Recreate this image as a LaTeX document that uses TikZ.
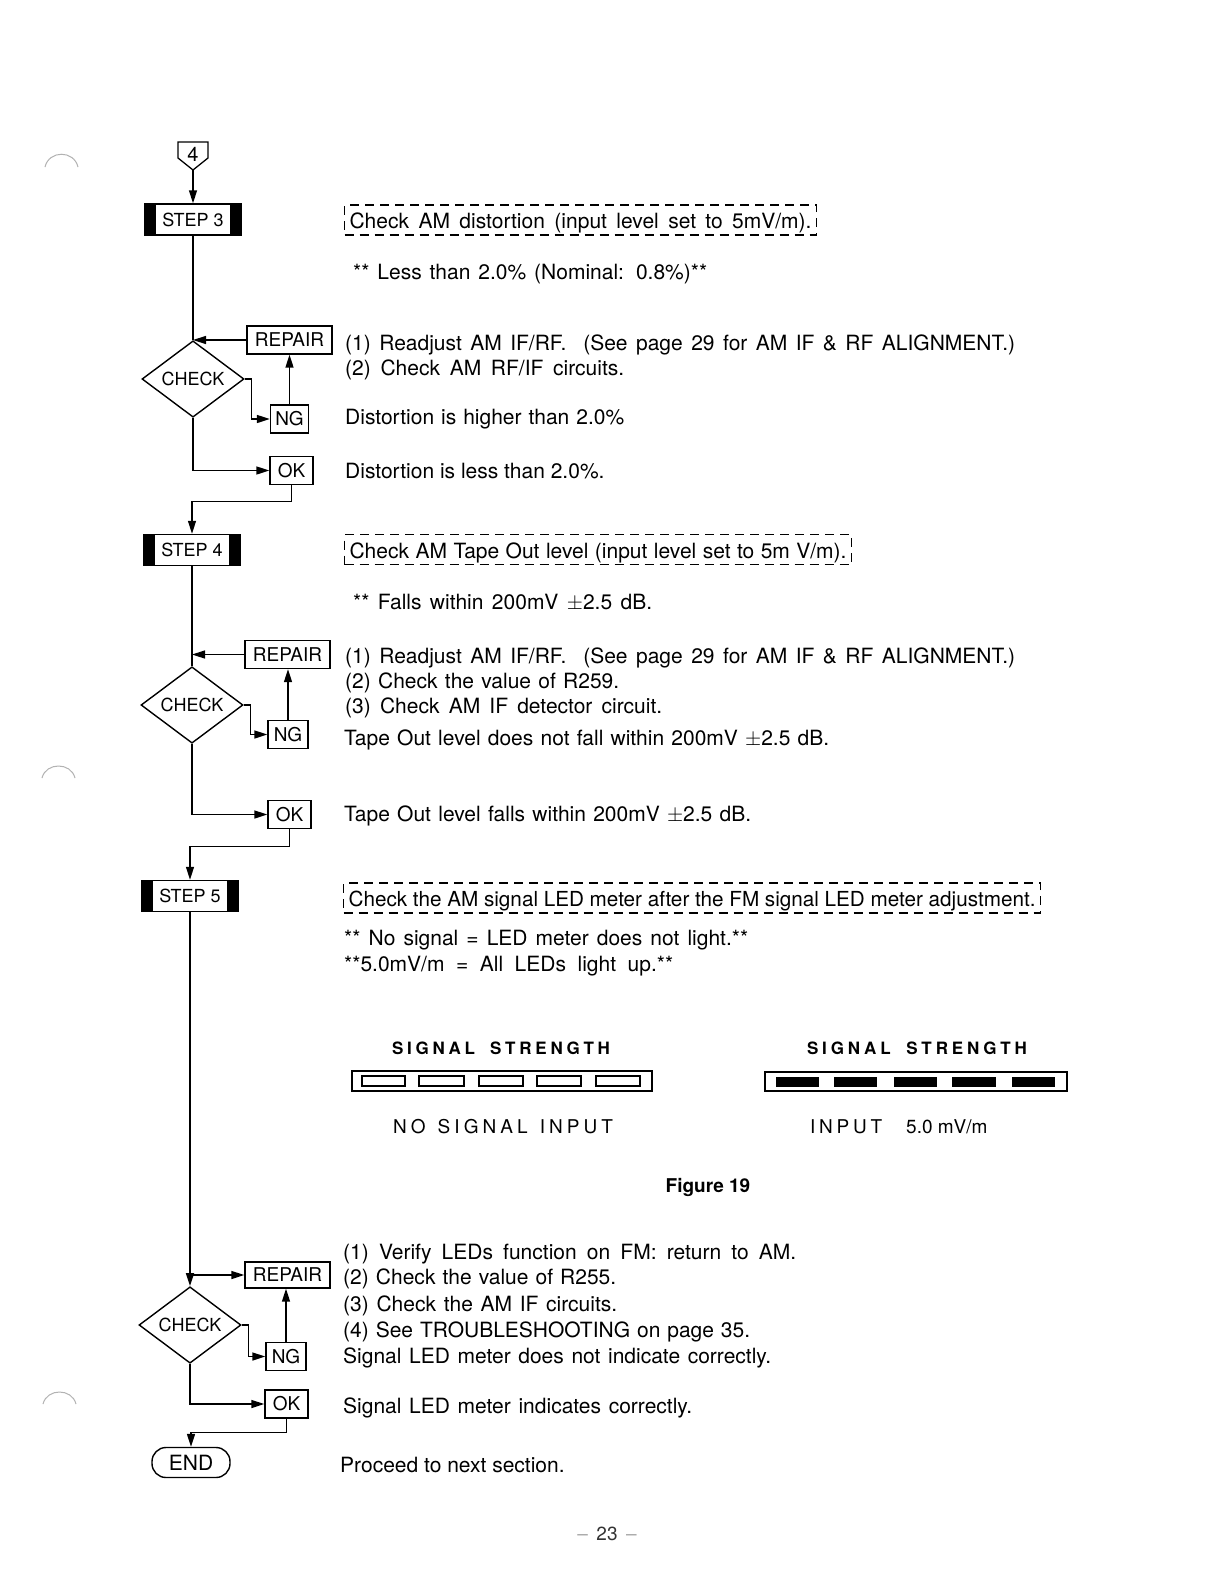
\documentclass[tikz,border=0pt]{standalone}
\usepackage{fontspec}
\setmainfont{TeX Gyre Heros}
\usetikzlibrary{shapes.geometric,arrows.meta}
\newcommand\fs[1]{\fontsize{#1}{#1}\selectfont}
\newcommand\spreadbox[2]{\makebox[#1][s]{#2}}
\begin{document}
\begin{tikzpicture}[x=1pt,y=-1pt,
  ln/.style={line width=1.5pt},
  arr/.style={line width=1.5pt,-{Triangle[length=13pt,width=8pt]}},
  stepbox/.style={draw,line width=1.5pt,minimum width=96pt,minimum height=31pt,inner sep=0pt,font=\fs{18},
    path picture={\fill (path picture bounding box.north west) rectangle ([xshift=11pt]path picture bounding box.south west);
                  \fill (path picture bounding box.north east) rectangle ([xshift=-11pt]path picture bounding box.south east);}},
  lbl/.style={draw,line width=1.4pt,inner sep=0pt,minimum height=28pt,font=\fs{19}},
  chk/.style={diamond,draw,line width=1.4pt,inner sep=0pt,minimum width=102pt,minimum height=58pt,font=\fs{18}},
  txt/.style={anchor=base west,inner sep=0pt,font=\fs{21}},
  dbox/.style={draw,dash pattern=on 9pt off 6pt,line width=1.1pt,anchor=west,inner xsep=5pt,inner ysep=2pt,
    minimum height=30pt,text height=19pt,text depth=2pt,font=\fs{21}},
  sp/.style={inner sep=0pt,font=\fs{17}\bfseries},
  bar/.style={draw,line width=1.3pt},
  seg/.style={draw,line width=1.1pt},
  segf/.style={fill=black},
  scan/.style={gray!60,line width=1pt}
]
\useasboundingbox[fill=white] (0,0) rectangle (1225,1584);

% scan marks at left edge
\draw[scan] (45,167) .. controls (49,150) and (74,150) .. (78,167);
\draw[scan] (42,778) .. controls (46,762) and (71,762) .. (75,778);
\draw[scan] (43,1404) .. controls (47,1388) and (72,1388) .. (76,1404);

% ---------- marker 4 ----------
\draw[line width=1.3pt] (178,142) -- (208,142) -- (208,158) -- (193,170) -- (178,158) -- cycle;
\node[inner sep=0pt,font=\fs{20}] (m4) at (193,154) {4};
\coordinate (m4tip) at (193,170);

% ---------- STEP 3 ----------
\node[stepbox] (s3) at (193,219.5) {STEP 3};
\draw[arr] (m4tip) -- (s3.north);
\node[lbl,minimum width=85pt] (r3) at (289.5,340) {REPAIR};
\node[chk] (c3) at (193,379) {CHECK};
\node[lbl,minimum width=38pt] (ng3) at (289.5,419) {NG};
\node[lbl,minimum width=43pt] (ok3) at (291.5,470.5) {OK};
\draw[ln] (s3.south) -- (c3.north);
\draw[arr] (r3.west) -- (r3.west -| c3.north);
\draw[arr] (c3.east) -- ++(7,0) |- (ng3.west);
\draw[arr] (ng3.north) -- (r3.south);
\draw[arr] (c3.south) |- (ok3.west);

\node[dbox] (d3) at (344,220) {\spreadbox{462pt}{Check AM distortion (input level set to 5mV/m).}};
\node[txt] (t31) at (353,279.5) {\spreadbox{354pt}{** Less than 2.0\% (Nominal: 0.8\%)**}};
\node[txt] (t32) at (345,350.5) {\spreadbox{670pt}{(1) Readjust AM IF/RF.\ \ (See page 29 for AM IF \& RF ALIGNMENT.)}};
\node[txt] (t33) at (345,375.5) {\spreadbox{279pt}{(2) Check AM RF/IF circuits.}};
\node[txt] (t34) at (345,424.5) {\spreadbox{279pt}{Distortion is higher than 2.0\%}};
\node[txt] (t35) at (345,478.5) {Distortion is less than 2.0\%.};

% ---------- STEP 4 ----------
\node[stepbox] (s4) at (192,550) {STEP 4};
\draw[arr] (ok3.south) -- ++(0,16.5) -| (s4.north);
\node[lbl,minimum width=85pt] (r4) at (287.5,654.5) {REPAIR};
\node[chk] (c4) at (192,705) {CHECK};
\node[lbl,minimum width=40pt] (ng4) at (288,734.5) {NG};
\node[lbl,minimum width=43pt] (ok4) at (289.5,814.5) {OK};
\draw[ln] (s4.south) -- (c4.north);
\draw[arr] (r4.west) -- (r4.west -| c4.north);
\draw[arr] (c4.east) -- ++(7,0) |- (ng4.west);
\draw[arr] (ng4.north) -- (ng4.north |- r4.south);
\draw[arr] (c4.south) |- (ok4.west);

\node[dbox] (d4) at (344,549.5) {\spreadbox{497pt}{Check AM Tape Out level (input level set to 5m V/m).}};
\node[txt] (t41) at (353,609.5) {\spreadbox{299pt}{** Falls within 200mV $\pm$2.5 dB.}};
\node[txt] (t42) at (345,663.5) {\spreadbox{670pt}{(1) Readjust AM IF/RF.\ \ (See page 29 for AM IF \& RF ALIGNMENT.)}};
\node[txt] (t43) at (345,688.5) {\spreadbox{274pt}{(2) Check the value of R259.}};
\node[txt] (t44) at (345,713.5) {\spreadbox{317pt}{(3) Check AM IF detector circuit.}};
\node[txt] (t45) at (344,745.5) {\spreadbox{485pt}{Tape Out level does not fall within 200mV $\pm$2.5 dB.}};
\node[txt] (t46) at (344,821.5) {\spreadbox{407pt}{Tape Out level falls within 200mV $\pm$2.5 dB.}};

% ---------- STEP 5 ----------
\node[stepbox] (s5) at (190,896) {STEP 5};
\draw[arr] (ok4.south) -- ++(0,17.5) -| (s5.north);
\node[lbl,minimum width=85pt,minimum height=26pt] (r5) at (287.5,1275) {REPAIR};
\node[chk] (c5) at (190,1325) {CHECK};
\node[lbl,minimum width=40pt] (ng5) at (286,1356.5) {NG};
\node[lbl,minimum width=43pt] (ok5) at (286.5,1404) {OK};
\coordinate (j5) at (190,1275);
\draw[arr] (s5.south) -- (c5.north);
\draw[arr] (j5) -- (r5.west);
\draw[arr] (c5.east) -- ++(7,0) |- (ng5.west);
\draw[arr] (ng5.north) -- (ng5.north |- r5.south);
\draw[arr] (c5.south) |- (ok5.west);
\node[draw,line width=1.4pt,rounded corners=14pt,minimum width=78pt,minimum height=30pt,inner sep=0pt,font=\fs{21}] (endn) at (191,1462.5) {END};
\draw[arr] (ok5.south) -- ++(0,14) -| (endn.north);

\node[dbox,font=\fs{20.7}] (d5) at (343,898) {\spreadbox{687pt}{Check the AM signal LED meter after the FM signal LED meter adjustment.}};
\node[txt] (t51) at (344,945.5) {\spreadbox{404pt}{** No signal = LED meter does not light.**}};
\node[txt] (t52) at (344,971.5) {\spreadbox{329pt}{**5.0mV/m = All LEDs light up.**}};

% signal strength meters
\node[sp] (ssl) at (501,1048) {\spreadbox{218pt}{S\hfill I\hfill G\hfill N\hfill A\hfill L\hfill\hfill\hfill\hfill S\hfill T\hfill R\hfill E\hfill N\hfill G\hfill T\hfill H}};
\node[sp] (ssr) at (917,1048) {\spreadbox{220pt}{S\hfill I\hfill G\hfill N\hfill A\hfill L\hfill\hfill\hfill\hfill S\hfill T\hfill R\hfill E\hfill N\hfill G\hfill T\hfill H}};
\draw[bar] (352,1071) rectangle (652,1091);
\foreach \a/\b in {362/405,419/464,479/523,537/581,596/640}
  \draw[seg] (\a,1076) rectangle (\b,1086);
\draw[bar] (765,1072) rectangle (1067,1091);
\foreach \a/\b in {776/819,834/877,894/937,952/996,1012/1055}
  \fill[segf] (\a,1077) rectangle (\b,1087);
\node[inner sep=0pt,font=\fs{19}] (nsi) at (503,1127) {\spreadbox{220pt}{N\hfill O\hfill\hfill\hfill S\hfill I\hfill G\hfill N\hfill A\hfill L\hfill\hfill\hfill I\hfill N\hfill P\hfill U\hfill T}};
\node[inner sep=0pt,font=\fs{19},anchor=west] (inp) at (810,1127) {\spreadbox{72pt}{I\hfill N\hfill P\hfill U\hfill T}};
\node[inner sep=0pt,font=\fs{19},anchor=west] (inv) at (906,1127) {5.0 mV/m};
\node[inner sep=0pt,font=\fs{19}\bfseries] (fig) at (708,1187) {Figure 19};

\node[txt] (t53) at (343,1259.5) {\spreadbox{453pt}{(1) Verify LEDs function on FM: return to AM.}};
\node[txt] (t54) at (343,1284.5) {\spreadbox{273pt}{(2) Check the value of R255.}};
\node[txt] (t55) at (343,1311.5) {\spreadbox{274pt}{(3) Check the AM IF circuits.}};
\node[txt] (t56) at (343,1337.5) {\spreadbox{407pt}{(4) See TROUBLESHOOTING on page 35.}};
\node[txt] (t57) at (343,1363.5) {\spreadbox{428pt}{Signal LED meter does not indicate correctly.}};
\node[txt] (t58) at (343,1413.5) {\spreadbox{349pt}{Signal LED meter indicates correctly.}};
\node[txt] (t59) at (340,1472.5) {Proceed to next section.};

\node[inner sep=0pt,font=\fs{19},text=black!80] (pg) at (607,1534) {\textcolor{black!35}{--}\, 23 \,\textcolor{black!35}{--}};
\end{tikzpicture}
\end{document}
